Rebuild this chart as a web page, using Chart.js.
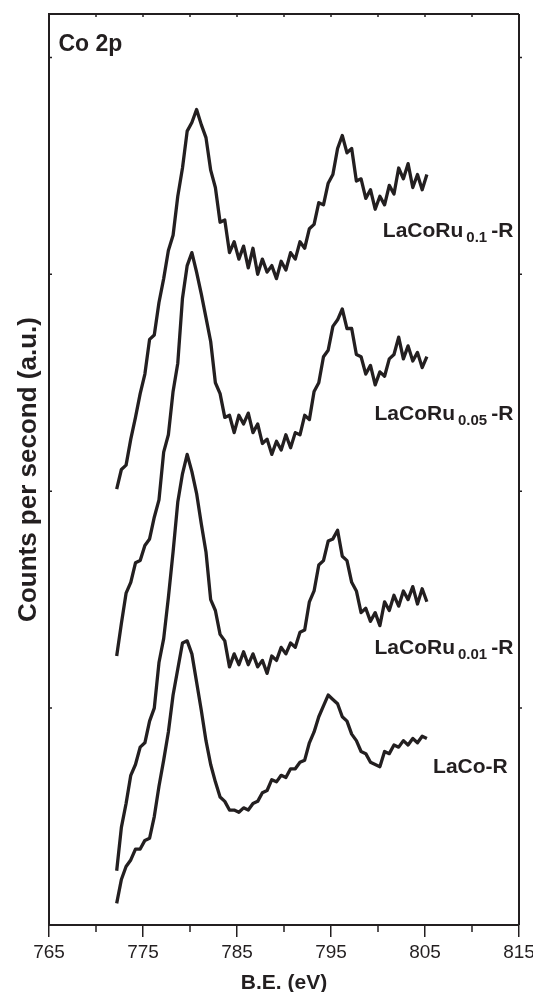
<!DOCTYPE html>
<html>
<head>
<meta charset="utf-8">
<script src="https://cdn.jsdelivr.net/npm/chart.js@4/dist/chart.umd.min.js"></script>
<style>
  html, body { margin: 0; padding: 0; background: #fff; }
  #wrap { width: 533px; height: 992px; position: relative; }
</style>
</head>
<body>
<div id="wrap"><canvas id="grafico"></canvas></div>
<script>
// binding energy (eV), shared by all four spectra
const energias = [
  772.2, 772.7, 773.2, 773.7, 774.2, 774.7, 775.2, 775.7, 776.2, 776.7,
  777.2, 777.7, 778.2, 778.7, 779.2, 779.7, 780.2, 780.7, 781.2, 781.7,
  782.2, 782.7, 783.2, 783.7, 784.2, 784.7, 785.2, 785.7, 786.2, 786.7,
  787.2, 787.7, 788.2, 788.7, 789.2, 789.7, 790.2, 790.7, 791.2, 791.7,
  792.2, 792.7, 793.2, 793.7, 794.2, 794.7, 795.2, 795.7, 796.2, 796.7,
  797.2, 797.7, 798.2, 798.7, 799.2, 799.7, 800.2, 800.7, 801.2, 801.7,
  802.2, 802.7, 803.2, 803.7, 804.2, 804.7, 805.2
];

// counts (a.u., stacked offsets included)
const ru01 = [
  20.1, 21.0, 21.2, 22.4, 23.4, 24.5, 25.4, 27.0, 27.2, 28.7,
  29.8, 31.1, 31.8, 33.6, 34.9, 36.6, 37.0, 37.6, 36.9, 36.3,
  34.8, 34.0, 32.4, 32.5, 31.0, 31.5, 30.7, 31.3, 30.3, 31.2,
  30.0, 30.7, 30.1, 30.4, 29.8, 30.6, 30.2, 31.0, 30.7, 31.5,
  31.2, 32.1, 32.3, 33.3, 33.2, 34.2, 34.6, 35.8, 36.4, 35.6,
  35.8, 34.3, 34.4, 33.5, 33.9, 33.0, 33.6, 33.2, 34.1, 33.7,
  34.9, 34.4, 35.1, 34.0, 34.6, 33.9, 34.6
];
const ru005 = [
  12.4, 13.9, 15.3, 15.8, 16.7, 16.8, 17.5, 17.8, 18.8, 19.6,
  21.8, 22.6, 24.6, 25.9, 28.9, 30.4, 31.0, 30.1, 29.1, 28.0,
  26.9, 25.0, 24.5, 23.4, 23.5, 22.7, 23.5, 23.1, 23.6, 22.7,
  23.1, 22.2, 22.4, 21.7, 22.3, 21.9, 22.6, 22.0, 22.7, 22.6,
  23.5, 23.3, 24.6, 25.0, 26.2, 26.5, 27.6, 27.9, 28.4, 27.5,
  27.5, 26.3, 26.2, 25.4, 25.8, 24.9, 25.5, 25.3, 26.1, 26.3,
  27.1, 26.1, 26.7, 26.0, 26.4, 25.7, 26.2
];
const ru001 = [
  2.5, 4.5, 5.6, 6.9, 7.4, 8.2, 8.4, 9.4, 10.0, 12.1,
  13.2, 15.1, 17.2, 19.5, 20.8, 21.7, 20.9, 19.9, 18.5, 17.2,
  15.0, 14.5, 13.4, 13.1, 11.9, 12.5, 12.0, 12.6, 12.0, 12.5,
  11.9, 12.2, 11.6, 12.4, 12.2, 12.8, 12.5, 13.0, 12.8, 13.5,
  13.6, 14.9, 15.4, 16.6, 16.8, 17.7, 17.8, 18.2, 17.0, 16.8,
  15.8, 15.4, 14.4, 14.6, 14.0, 14.4, 13.8, 14.9, 14.5, 15.2,
  14.7, 15.4, 15.0, 15.6, 14.8, 15.5, 14.9
];
const laco = [
  1.0, 2.1, 2.7, 3.0, 3.5, 3.5, 3.9, 4.0, 5.0, 6.4,
  7.6, 8.9, 10.6, 11.8, 13.0, 13.1, 12.5, 11.2, 9.9, 8.5,
  7.4, 6.6, 5.9, 5.7, 5.3, 5.3, 5.2, 5.4, 5.3, 5.6,
  5.7, 6.1, 6.2, 6.7, 6.6, 6.9, 6.8, 7.2, 7.2, 7.5,
  7.6, 8.4, 8.9, 9.6, 10.1, 10.6, 10.4, 10.2, 9.6, 9.4,
  8.8, 8.5, 8.0, 7.9, 7.5, 7.4, 7.3, 8.0, 7.9, 8.3,
  8.2, 8.5, 8.3, 8.6, 8.4, 8.7, 8.6
];

const nomes = ["LaCoRu", "LaCoRu", "LaCoRu", "LaCo-R"];
const subscritos = ["0.1", "0.05", "0.01", ""];
const sufixos = ["-R", "-R", "-R", ""];
// label anchors in data units (right edge energy, baseline counts)
const rotuloX = [814.4, 814.4, 814.4, 813.8];
const rotuloY = [31.7, 23.3, 12.5, 7.0];

const xTicks = [765, 775, 785, 795, 805, 815];
const tinta = "#231f20";
const fonte = '"Liberation Sans", Arial, Helvetica, sans-serif';

const molduraPlugin = {
  id: "moldura",
  afterDraw(chart) {
    const { ctx, chartArea: a, scales: { x, y } } = chart;
    ctx.save();
    ctx.strokeStyle = tinta;
    ctx.lineWidth = 2;
    ctx.beginPath();
    ctx.moveTo(a.left, a.top); ctx.lineTo(a.right, a.top);
    ctx.moveTo(a.right, a.top); ctx.lineTo(a.right, a.bottom);
    ctx.stroke();
    ctx.lineWidth = 1.5;
    ctx.beginPath();
    for (let v = 770; v < 815; v += 10) {
      const px = x.getPixelForValue(v);
      ctx.moveTo(px, a.bottom); ctx.lineTo(px, a.bottom + 7);
    }
    for (let v = 770; v < 815; v += 5) {
      const px = x.getPixelForValue(v);
      ctx.moveTo(px, a.top); ctx.lineTo(px, a.top + 3);
    }
    for (let v = 10; v <= 40; v += 10) {
      const py = y.getPixelForValue(v);
      ctx.moveTo(a.left, py); ctx.lineTo(a.left + 3, py);
      ctx.moveTo(a.right, py); ctx.lineTo(a.right + 3, py);
    }
    ctx.stroke();

    // panel title
    ctx.fillStyle = tinta;
    ctx.textBaseline = "alphabetic";
    ctx.textAlign = "left";
    ctx.font = "bold 23px " + fonte;
    ctx.fillText("Co 2p", x.getPixelForValue(766.0), y.getPixelForValue(40.3));

    // series labels with subscripts
    nomes.forEach((nome, i) => {
      let px = x.getPixelForValue(rotuloX[i]);
      const py = y.getPixelForValue(rotuloY[i]);
      ctx.textAlign = "right";
      ctx.font = "bold 21px " + fonte;
      if (sufixos[i]) {
        ctx.fillText(sufixos[i], px, py);
        px -= ctx.measureText(sufixos[i]).width + 4;
      }
      if (subscritos[i]) {
        ctx.font = "bold 15px " + fonte;
        ctx.fillText(subscritos[i], px, py + 5);
        px -= ctx.measureText(subscritos[i]).width + 3;
      }
      ctx.font = "bold 21px " + fonte;
      ctx.fillText(nome, px, py);
    });
    ctx.restore();
  }
};

function serie(vals) {
  return {
    data: energias.map((e, i) => ({ x: e, y: vals[i] })),
    borderColor: tinta,
    borderWidth: 3.3,
    borderJoinStyle: "round",
    pointRadius: 0,
    tension: 0,
    fill: false
  };
}

new Chart(document.getElementById("grafico"), {
  type: "line",
  data: { datasets: [serie(ru01), serie(ru005), serie(ru001), serie(laco)] },
  options: {
    responsive: true,
    maintainAspectRatio: false,
    animation: false,
    layout: { padding: { top: 14, right: 14, left: 0, bottom: 0 } },
    plugins: { legend: { display: false }, tooltip: { enabled: false } },
    scales: {
      x: {
        type: "linear",
        min: 765,
        max: 815,
        afterBuildTicks(s) { s.ticks = xTicks.map(v => ({ value: v })); },
        afterFit(s) { s.height = 67; s.paddingLeft = 0; s.paddingRight = 0; },
        grid: { display: true, drawOnChartArea: false, drawTicks: true, tickLength: 12, color: tinta, lineWidth: 1.5 },
        border: { display: true, color: tinta, width: 2 },
        ticks: { color: tinta, padding: 4, maxRotation: 0, font: { family: fonte, size: 19 } },
        title: {
          display: true,
          text: "B.E. (eV)",
          color: tinta,
          padding: { top: 0, bottom: 0 },
          font: { family: fonte, size: 21, weight: "bold", lineHeight: 0.86 }
        }
      },
      y: {
        min: 0,
        max: 42,
        afterFit(s) { s.width = 49; s.paddingTop = 0; s.paddingBottom = 0; },
        grid: { display: false },
        border: { display: true, color: tinta, width: 2 },
        ticks: { display: false, stepSize: 10 },
        title: {
          display: true,
          text: "Counts per second (a.u.)",
          color: tinta,
          padding: { top: 13, bottom: 0 },
          font: { family: fonte, size: 26, weight: "bold", lineHeight: 1.2 }
        }
      }
    }
  },
  plugins: [molduraPlugin]
});
</script>
</body>
</html>
